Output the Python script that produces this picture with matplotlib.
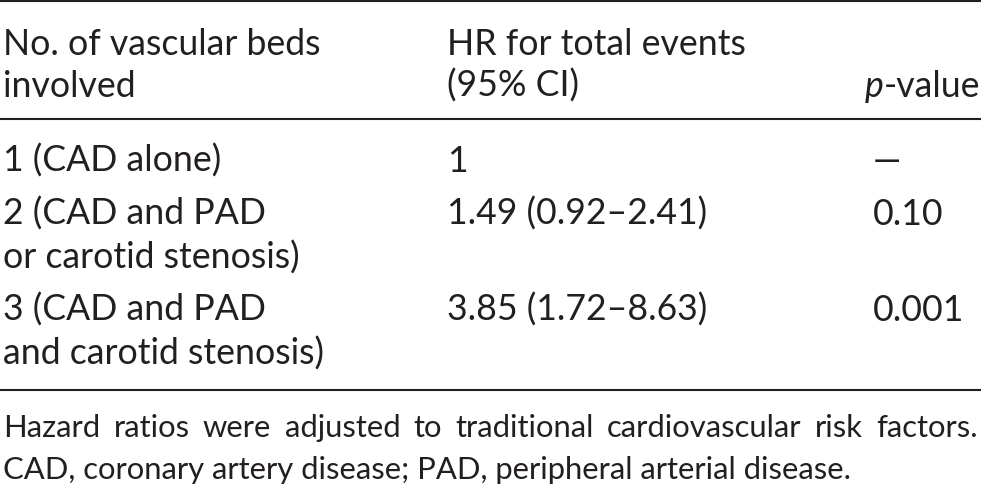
import matplotlib
matplotlib.use('Agg')
import matplotlib.pyplot as plt

# table content
header_col1 = ["No. of vascular beds", "involved"]
header_col2 = ["HR for total events", "(95% CI)"]
beds = [["1 (CAD alone)"],
        ["2 (CAD and PAD", "or carotid stenosis)"],
        ["3 (CAD and PAD", "and carotid stenosis)"]]
hazard = ["1", "1.49 (0.92–2.41)", "3.85 (1.72–8.63)"]
pvalues = ["—", "0.10", "0.001"]
footnote = ["Hazard ratios were adjusted to traditional cardiovascular risk factors.",
            "CAD, coronary artery disease; PAD, peripheral arterial disease."]

W, H = 981, 489
FONT = 'Lato'
INK = '#231f20'

fig = plt.figure(figsize=(W / 100, H / 100), dpi=100)
ax = fig.add_axes([0, 0, 1, 1])
ax.set_xlim(0, W)
ax.set_ylim(H, 0)
ax.axis('off')
renderer = fig.canvas.get_renderer()


def width_of(s, size, style='normal'):
    t = ax.text(0, 0, s, fontsize=size, family=FONT, style=style)
    w = t.get_window_extent(renderer).width
    t.remove()
    return w


def put(x, y, s, size, ha='left', style='normal'):
    ax.text(x, y, s, fontsize=size, family=FONT, color=INK, ha=ha, va='baseline', style=style)


# pick font sizes so the widths match the reference
main_size = 20 * 318 / width_of(header_col1[0], 20)
foot_size = 20 * 852 / width_of(footnote[1], 20)

x1, x2, x3 = 3, 447, 873
for i, line in enumerate(header_col1):
    put(x1, 55 + 42 * i, line, main_size)
for i, line in enumerate(header_col2):
    put(x2, 55 + 42 * i, line, main_size)
val_w = width_of("-value", main_size)
put(980, 97, "-value", main_size, ha='right')
put(980 - val_w, 97, "p", main_size, ha='right', style='italic')

row_base = [172, 225, 321]
for base, bed, hr, p in zip(row_base, beds, hazard, pvalues):
    for j, line in enumerate(bed):
        put(x1, base + 44 * j, line, main_size)
    put(x2, base, hr, main_size)
    put(x3, base, p, main_size)

# rules
for y in (1.5, 120, 391):
    ax.plot([0, W], [y, y], color=INK, lw=1.5, solid_capstyle='butt')

# justified first footnote line
words = footnote[0].split()
widths = [width_of(wd, foot_size) for wd in words]
gap = (978 - 3 - sum(widths)) / (len(words) - 1)
x = 3
for wd, w in zip(words, widths):
    put(x, 437, wd, foot_size)
    x += w + gap
put(3, 479, footnote[1], foot_size)

fig.savefig('out.png', dpi=100)
